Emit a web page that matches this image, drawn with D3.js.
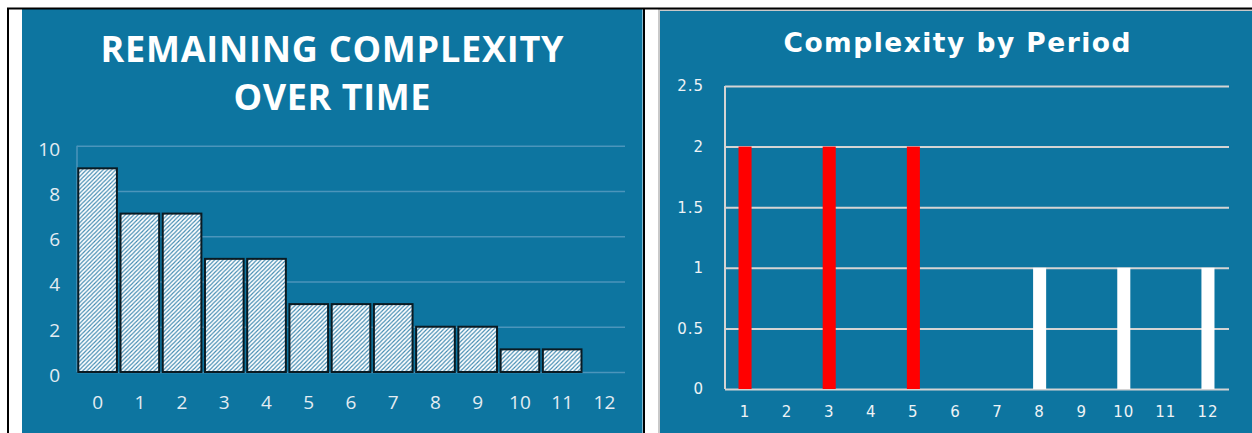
<!DOCTYPE html>
<html>
<head>
<meta charset="utf-8">
<script src="https://cdn.jsdelivr.net/npm/d3@7"></script>
<style>
  html, body { margin: 0; padding: 0; background: #ffffff; }
  svg { display: block; }
</style>
</head>
<body>
<svg id="chart" width="1252" height="433"></svg>
<script>
// Left chart: remaining complexity at each step
const steps = ["0","1","2","3","4","5","6","7","8","9","10","11","12"];
const remaining = [9, 7, 7, 5, 5, 3, 3, 3, 2, 2, 1, 1, 0];
const remainingTicks = [0, 2, 4, 6, 8, 10];

// Right chart: complexity added per period
const periods = ["1","2","3","4","5","6","7","8","9","10","11","12"];
const complexity = [2, 0, 2, 0, 2, 0, 0, 1, 0, 1, 0, 1];
const complexityTicks = [0, 0.5, 1, 1.5, 2, 2.5];

const BLUE = "#0d75a0";
const svg = d3.select("#chart");

// Frame: table borders around the two panels
svg.append("rect").attr("x", 22).attr("y", 9).attr("width", 620.5).attr("height", 424).attr("fill", BLUE);
svg.append("rect").attr("x", 659).attr("y", 10).attr("width", 594).attr("height", 424)
  .attr("fill", BLUE).attr("stroke", "#c9c9c9").attr("stroke-width", 2);
svg.append("line").attr("x1", 7).attr("x2", 1252).attr("y1", 8.5).attr("y2", 8.5).attr("stroke", "#000").attr("stroke-width", 2);
svg.append("line").attr("x1", 8).attr("x2", 8).attr("y1", 8).attr("y2", 433).attr("stroke", "#000").attr("stroke-width", 2);
svg.append("line").attr("x1", 644).attr("x2", 644).attr("y1", 8).attr("y2", 433).attr("stroke", "#000").attr("stroke-width", 2);

// Hatch fill for the left bars
const defs = svg.append("defs");
const pat = defs.append("pattern").attr("id", "hatch").attr("patternUnits", "userSpaceOnUse")
  .attr("width", 4.2).attr("height", 4.2);
pat.append("rect").attr("width", 4.2).attr("height", 4.2).attr("fill", "#ffffff");
pat.append("path").attr("d", "M-1,1 l2,-2 M0,4.2 l4.2,-4.2 M3.2,5.2 l2,-2")
  .attr("stroke", "#3f89b0").attr("stroke-width", 1.15);

// ---------- Left chart ----------
{
  const g = svg.append("g");
  const x = d3.scaleBand().domain(steps).range([77, 625]).paddingInner(0.085).paddingOuter(0.03);
  const y = d3.scaleLinear().domain([0, 10]).range([372, 145.7]);

  const title = g.append("text").attr("text-anchor", "middle")
    .attr("font-family", "Open Sans").attr("font-weight", 700).attr("font-size", 36)
    .attr("fill", "#ffffff");
  title.append("tspan").attr("x", 332).attr("y", 62)
    .attr("textLength", 463).attr("lengthAdjust", "spacing").text("REMAINING COMPLEXITY");
  title.append("tspan").attr("x", 332).attr("y", 110)
    .attr("textLength", 197).attr("lengthAdjust", "spacing").text("OVER TIME");

  const yAxis = d3.axisLeft(y).tickValues(remainingTicks).tickSize(-(625 - 77)).tickPadding(17);
  const ya = g.append("g").attr("transform", "translate(77,0)").call(yAxis);
  ya.select(".domain").remove();
  ya.selectAll(".tick line").attr("stroke", "#4b95bb").attr("stroke-width", 1.5);
  ya.selectAll(".tick text").attr("fill", "#e3ecf2").attr("font-family", "Open Sans")
    .attr("font-size", 19).attr("dy", "0.5em");

  g.append("line").attr("x1", 77).attr("x2", 77).attr("y1", y(10)).attr("y2", y(0))
    .attr("stroke", "#4b95bb").attr("stroke-width", 1.5);

  g.selectAll("rect.bar")
    .data(remaining.map((v, i) => ({ step: steps[i], v })).filter(d => d.v > 0))
    .join("rect").attr("class", "bar")
    .attr("x", d => x(d.step)).attr("y", d => y(d.v))
    .attr("width", x.bandwidth()).attr("height", d => y(0) - y(d.v))
    .attr("fill", "url(#hatch)").attr("stroke", "#0a1a22").attr("stroke-width", 2);

  const xAxis = d3.axisBottom(x).tickSize(0).tickPadding(24);
  const xa = g.append("g").attr("transform", `translate(0,${y(0)})`).call(xAxis);
  xa.select(".domain").remove();
  xa.selectAll(".tick text").attr("fill", "#e3ecf2").attr("font-family", "Open Sans").attr("font-size", 19);
}

// ---------- Right chart ----------
{
  const g = svg.append("g");
  const x = d3.scaleBand().domain(periods).range([724, 1229]).paddingInner(0.69).paddingOuter(0.345);
  const y = d3.scaleLinear().domain([0, 2.5]).range([389, 86]);
  const color = v => (v >= 2 ? "#ff0000" : "#ffffff");

  g.append("text").attr("x", 957).attr("y", 52).attr("text-anchor", "middle")
    .attr("font-family", "DejaVu Sans").attr("font-weight", 700).attr("font-size", 26.5)
    .attr("fill", "#ffffff").attr("textLength", 347).attr("lengthAdjust", "spacing")
    .text("Complexity by Period");

  const yAxis = d3.axisLeft(y).tickValues(complexityTicks).tickSize(-(1229 - 725)).tickPadding(21)
    .tickFormat(d3.format("~g"));
  const ya = g.append("g").attr("transform", "translate(725,0)").call(yAxis);
  ya.select(".domain").remove();
  ya.selectAll(".tick line").attr("stroke", "#d4d4d4").attr("stroke-width", 2);
  ya.selectAll(".tick text").attr("fill", "#eef3f6").attr("font-family", "DejaVu Sans")
    .attr("font-size", 15).attr("letter-spacing", 1);

  g.append("line").attr("x1", 725).attr("x2", 725).attr("y1", y(2.5)).attr("y2", y(0))
    .attr("stroke", "#d4d4d4").attr("stroke-width", 2);

  g.selectAll("rect.pbar")
    .data(complexity.map((v, i) => ({ period: periods[i], v })))
    .join("rect").attr("class", "pbar")
    .attr("x", d => x(d.period)).attr("y", d => y(d.v))
    .attr("width", x.bandwidth()).attr("height", d => y(0) - y(d.v))
    .attr("fill", d => color(d.v));

  const xAxis = d3.axisBottom(x).tickSize(0).tickPadding(17);
  const xa = g.append("g").attr("transform", `translate(0,${y(0)})`).call(xAxis);
  xa.select(".domain").remove();
  xa.selectAll(".tick text").attr("fill", "#eef3f6").attr("font-family", "DejaVu Sans")
    .attr("font-size", 15).attr("letter-spacing", 1);
}
</script>
</body>
</html>
